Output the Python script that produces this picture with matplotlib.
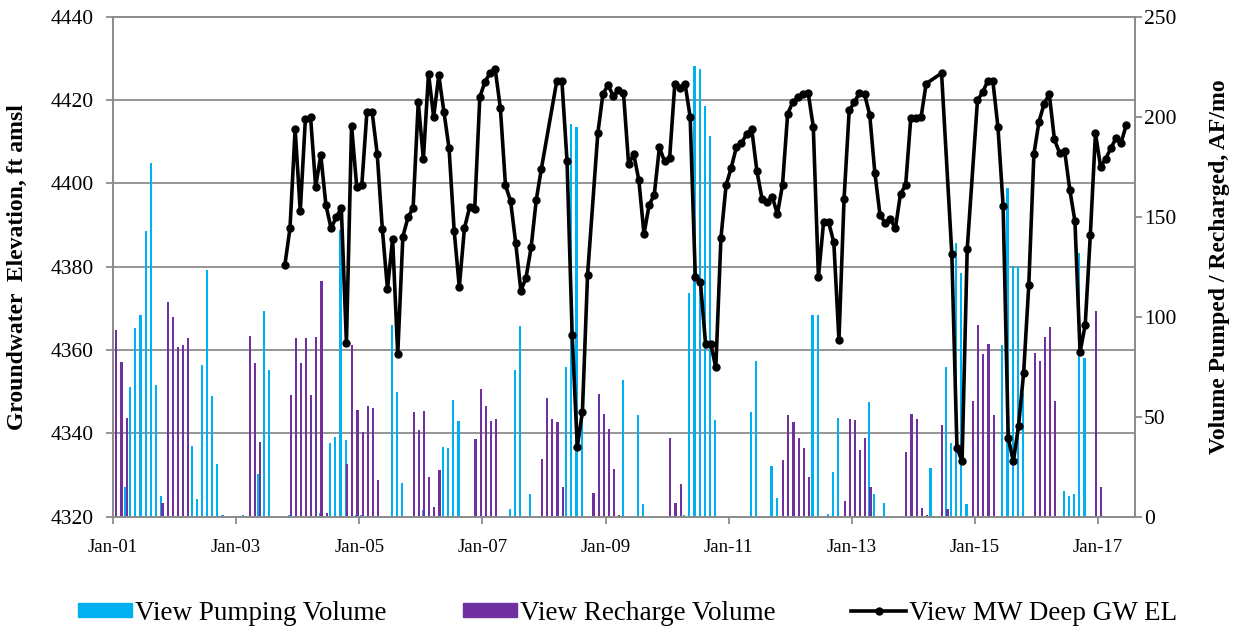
import numpy as np
import matplotlib.pyplot as plt
from matplotlib.patches import Patch
from matplotlib.lines import Line2D

# monthly record, Jan-2001 .. Jul-2017 (one row per year)
pumping = [
    0, 0, 14.8, 64.7, 94.1, 100.9, 142.9, 176.8, 65.6, 10.6, 0, 0,        # 2001
    0, 0, 0, 35.3, 8.7, 75.6, 123.2, 60.2, 26.4, 1, 0, 0,                 # 2002
    0, 1, 0, 0, 21.5, 102.9, 73.5, 0, 0, 0, 1, 0,                         # 2003
    0, 0, 0, 0, 1.7, 0, 36.6, 39.8, 143.5, 38.5, 0, 1,                    # 2004
    1, 0, 0, 0, 0, 0, 95.8, 62.2, 16.8, 0, 0, 0,                          # 2005
    3.4, 0, 0, 0, 35, 34.1, 58.3, 47.6, 0, 0, 0, 0,                       # 2006
    0, 0, 0, 0, 0, 3.7, 73.5, 95.3, 0, 11.3, 0, 0,                        # 2007
    0, 0, 0, 0, 74.8, 196.5, 194.7, 55, 0, 0, 0, 0,                       # 2008
    0, 0, 0, 68.1, 0, 0, 50.8, 6.2, 0, 0, 0, 0,                           # 2009
    0, 0, 0, 1, 111.8, 225.3, 223.9, 205.4, 190.3, 48.2, 0, 0,            # 2010
    0, 0, 0, 0, 52.1, 77.8, 0, 0, 25.2, 9.6, 0, 0,                        # 2011
    0, 0, 0, 0, 100.9, 100.9, 0, 1.5, 22.2, 49.3, 0, 0,                   # 2012
    0, 0, 0, 57.2, 11.3, 0, 6.7, 0, 0, 0, 0, 0,                           # 2013
    0, 0, 0, 24.4, 0, 0, 74.8, 37, 136.7, 121.9, 6.2, 0,                  # 2014
    0, 0, 0, 0, 0, 85.7, 164.5, 125.5, 125.5, 62, 0, 0,                   # 2015
    0, 0, 0, 0, 0, 12.9, 10.6, 11.3, 132, 79.5, 0, 0,                     # 2016
    0, 0, 0, 0, 0, 0, 0,                                                  # 2017
]

recharge = [
    93.3, 77.3, 49.3, 0, 0, 0, 0, 0, 0, 6.7, 107.3, 99.7,                 # 2001
    84.9, 85.6, 89.4, 0, 0, 0, 0, 0, 0, 0, 0, 0,                          # 2002
    0, 0, 90.3, 76.8, 37.3, 0, 0, 0, 0, 0, 61.0, 89.1,                    # 2003
    76.8, 89.1, 61.0, 89.6, 117.7, 1.7, 0, 0, 0, 26.5, 85.7, 53.3,        # 2004
    42.3, 55.1, 54.5, 18.5, 0, 0, 0, 0, 0, 0, 52.1, 43.2,                 # 2005
    52.6, 19.7, 5, 23.5, 0, 0, 0, 0, 0, 0, 38.7, 63.9,                    # 2006
    55.1, 47.6, 48.7, 0, 0, 0, 0, 0, 0, 0, 0, 29.1,                       # 2007
    59.3, 48.7, 47.1, 15.1, 0, 0, 0, 0, 0, 12, 61.4, 51.3,                # 2008
    43.7, 23.9, 1, 0, 0, 0, 0, 0, 0, 0, 0, 0,                             # 2009
    39.2, 6.7, 16.3, 0, 0, 0, 0, 0, 0, 0, 0, 0,                           # 2010
    0, 0, 0, 0, 0, 0, 0, 0, 0, 0, 28.6, 50.8,                             # 2011
    47.1, 39.2, 34.1, 19.7, 0, 0, 0, 0, 0, 0, 7.9, 48.7,                  # 2012
    48.2, 33.1, 39.2, 15.1, 0, 0, 0, 0, 0, 0, 32.4, 51.3,                 # 2013
    48.7, 4.2, 1, 0, 0, 45.7, 3.7, 0, 0, 0, 0, 57.7,                      # 2014
    95.8, 81.2, 86.2, 50.8, 0, 0, 0, 0, 0, 0, 0, 81.9,                    # 2015
    77.8, 89.6, 95, 57.7, 0, 0, 0, 0, 0, 0, 0, 102.9,                     # 2016
    14.8, 0, 0, 0, 0, 0, 0,                                               # 2017
]

# MW deep groundwater elevation, Oct-2003 .. Jun-2017 (nan = no reading)
gw_start = 33
gw_elev = [
    4380.4, 4389.2, 4413.0,                                                              # 2003
    4393.3, 4415.4, 4416.0, 4399.2, 4406.8, 4394.8, 4389.2, 4391.8, 4394.1, 4361.7, 4413.8, 4399.2,  # 2004
    4399.6, 4417.2, 4417.2, 4407.0, 4389.0, 4374.6, 4386.7, 4359.0, 4387.2, 4391.8, 4394.1, 4419.4,  # 2005
    4405.8, 4426.3, 4415.9, 4425.9, 4417.2, 4408.4, 4388.6, 4375.1, 4389.2, 4394.2, 4393.8, 4420.7,  # 2006
    4424.3, 4426.5, 4427.3, 4418.1, 4399.5, 4395.7, 4385.6, 4374.2, 4377.3, 4384.6, 4396.0, 4403.5,  # 2007
    np.nan, np.nan, 4424.5, 4424.5, 4405.3, 4363.6, 4336.8, 4345.2, 4378.0, np.nan, 4412.0, 4421.5,  # 2008
    4423.5, 4421.0, 4422.3, 4421.7, 4404.6, 4407.0, 4400.7, 4387.8, 4394.8, 4397.2, 4408.6, 4405.3,  # 2009
    4406.1, 4423.7, 4422.9, 4423.9, 4415.9, 4377.5, 4376.3, 4361.5, 4361.5, 4355.8, 4386.9, 4399.5,  # 2010
    4403.7, 4408.6, 4409.6, 4411.8, 4413.0, 4403.0, 4396.3, 4395.5, 4396.8, 4392.6, 4399.6, 4416.6,  # 2011
    4419.5, 4420.6, 4421.3, 4421.7, 4413.5, 4377.5, 4390.6, 4390.6, 4385.8, 4362.4, 4396.3, 4417.5,  # 2012
    4419.4, 4421.7, 4421.3, 4416.4, 4402.5, 4392.4, 4390.5, 4391.4, 4389.2, 4397.5, 4399.5, 4415.6,  # 2013
    4415.7, 4415.8, 4423.9, np.nan, np.nan, 4426.4, np.nan, 4383.1, 4336.6, 4333.3, 4384.2, np.nan,  # 2014
    4419.9, 4421.8, 4424.5, 4424.5, 4413.4, 4394.6, 4338.8, 4333.3, 4341.7, 4354.5, 4375.5, 4407.0,  # 2015
    4414.8, 4419.1, 4421.4, 4410.5, 4407.3, 4407.7, 4398.4, 4390.9, 4359.5, 4366.0, 4387.6, 4412.0,  # 2016
    4403.9, 4405.9, 4408.4, 4410.8, 4409.7, 4414.0,                                      # 2017
]

tick_labels = ['Jan-01', 'Jan-03', 'Jan-05', 'Jan-07', 'Jan-09',
               'Jan-11', 'Jan-13', 'Jan-15', 'Jan-17']

BLUE = '#00B0F0'
PURPLE = '#7030A0'
GRID = '#8C8C8C'

plt.rcParams['font.family'] = ['Liberation Serif', 'DejaVu Serif']

n = len(pumping)
x = np.arange(n) + 0.5
gw = np.array(gw_elev)
gx = np.arange(gw_start, gw_start + len(gw)) + 0.5
ok = ~np.isnan(gw)

fig = plt.figure(figsize=(12.35, 6.3), dpi=100)
ax = fig.add_axes([0.0915, 0.1798, 0.8275, 0.7940])   # volumes (right scale)
ax2 = ax.twinx()                                        # elevation (left scale)

ax.bar(x - 0.15, pumping, width=0.42, color=BLUE, lw=0, antialiased=False, zorder=2)
ax.bar(x + 0.15, recharge, width=0.42, color=PURPLE, lw=0, antialiased=False, zorder=2)
ax2.plot(gx[ok], gw[ok], color='black', lw=2.6, marker='o', ms=5)

ax.set_xlim(0, 199.2)
ax.set_ylim(0, 250)
ax2.set_ylim(4320, 4440)

# swap sides: elevation on the left, volumes on the right
ax.yaxis.tick_right()
ax.yaxis.set_label_position('right')
ax2.yaxis.tick_left()
ax2.yaxis.set_label_position('left')

ax.set_yticks(np.arange(0, 251, 50))
ax2.set_yticks(np.arange(4320, 4441, 20))
ax.set_xticks(np.arange(0, 193, 24))
ax.set_xticklabels(tick_labels)

# horizontal gridlines follow the elevation ticks
ax.set_yticks(np.linspace(0, 250, 7), minor=True)
ax.grid(which='minor', axis='y', color=GRID, lw=1.3)
ax.set_axisbelow(True)

for a in (ax, ax2):
    for s in a.spines.values():
        s.set_color(GRID)
        s.set_linewidth(1.3)
    a.tick_params(which='major', direction='out', length=5, width=1.3,
                  color=GRID, labelsize=15.5)
    a.tick_params(which='minor', length=0)
ax.tick_params(axis='x', labelsize=13.5, pad=11)
ax.tick_params(axis='y', pad=1.5)
ax2.tick_params(axis='y', pad=9)

ax2.set_ylabel('Groundwater  Elevation, ft amsl', fontsize=17,
               fontweight='bold')
ax.set_ylabel('Volume Pumped / Recharged, AF/mo', fontsize=17,
              fontweight='bold')
ax2.yaxis.set_label_coords(-0.083, 0.5)
ax.yaxis.set_label_coords(1.072, 0.5)

handles = [Patch(color=BLUE), Patch(color=PURPLE),
           Line2D([], [], color='black', lw=2.6, marker='o', ms=5)]
labels = ['View Pumping Volume', 'View Recharge Volume', 'View MW Deep GW EL']
fig.legend(handles, labels, loc='center', bbox_to_anchor=(0.508, 1 - 613 / 630),
           ncol=3, frameon=False, fontsize=19.5, handlelength=2.0,
           handleheight=0.45, handletextpad=0.12, columnspacing=2.8)

fig.savefig('out.png', dpi=100)
